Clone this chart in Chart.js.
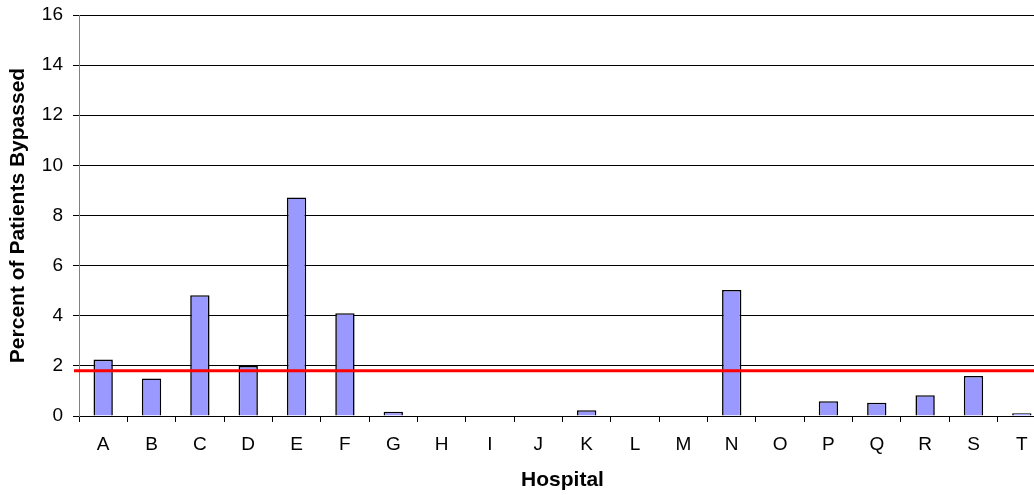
<!DOCTYPE html>
<html>
<head>
<meta charset="utf-8">
<script src="https://cdn.jsdelivr.net/npm/chart.js@4.4.0/dist/chart.umd.min.js"></script>
<style>
  html, body { margin: 0; padding: 0; background: #fff; overflow: hidden; }
  #wrap { width: 1046px; height: 495px; position: relative; }
</style>
</head>
<body>
<div id="wrap"><canvas id="bypassChart"></canvas></div>
<script>
// Data
const hospitals = ['A','B','C','D','E','F','G','H','I','J','K','L','M','N','O','P','Q','R','S','T'];
const percentBypassed = [2.25, 1.5, 4.82, 2.0, 8.72, 4.1, 0.17, 0, 0, 0, 0.23, 0, 0, 5.03, 0, 0.59, 0.53, 0.83, 1.6, 0.11];
const benchmark = 1.81;
const yTicks = [0, 2, 4, 6, 8, 10, 12, 14, 16];

const fontFamily = '"Liberation Sans", Arial, sans-serif';

// red reference line across the whole plot, placed with the y scale
const benchmarkLine = {
  id: 'benchmarkLine',
  afterDatasetsDraw(chart) {
    const ctx = chart.ctx;
    const y = chart.scales.y.getPixelForValue(benchmark);
    const area = chart.chartArea;
    ctx.save();
    ctx.strokeStyle = '#FF0000';
    ctx.lineWidth = 3;
    ctx.beginPath();
    ctx.moveTo(area.left - 5, y);
    ctx.lineTo(area.right, y);
    ctx.stroke();
    ctx.restore();
  }
};

const ctx = document.getElementById('bypassChart').getContext('2d');
new Chart(ctx, {
  type: 'bar',
  data: {
    labels: hospitals,
    datasets: [{
      label: 'Percent of Patients Bypassed',
      data: percentBypassed,
      backgroundColor: '#9999FF',
      borderColor: '#000000',
      borderWidth: 1.6,
      barPercentage: 0.4,
      categoryPercentage: 1.0
    }]
  },
  options: {
    responsive: true,
    maintainAspectRatio: false,
    animation: false,
    devicePixelRatio: 1,
    layout: { padding: { top: 15, right: 0, left: 0, bottom: 0 } },
    plugins: {
      legend: { display: false },
      tooltip: { enabled: false }
    },
    scales: {
      x: {
        afterFit(scale) { scale.height = 79; },
        grid: {
          offset: true,
          drawOnChartArea: false,
          drawTicks: true,
          tickLength: 6,
          color: '#000000'
        },
        border: { color: '#000000', width: 1 },
        ticks: {
          color: '#000000',
          padding: 11,
          font: { family: fontFamily, size: 19 }
        },
        title: {
          display: true,
          text: 'Hospital',
          color: '#000000',
          padding: { top: 0, bottom: 2 },
          font: { family: fontFamily, size: 21, weight: 'bold' }
        }
      },
      y: {
        min: 0,
        max: 16,
        afterFit(scale) {
          scale.width = 79;
          scale.paddingTop = 0;
          scale.paddingBottom = 0;
        },
        afterBuildTicks(axis) {
          axis.ticks = yTicks.map(v => ({ value: v }));
        },
        grid: {
          color: '#000000',
          lineWidth: 1,
          drawTicks: true,
          tickLength: 6
        },
        border: { color: '#808080', width: 1 },
        ticks: {
          color: '#000000',
          padding: 10,
          font: { family: fontFamily, size: 19 }
        },
        title: {
          display: true,
          text: 'Percent of Patients Bypassed',
          color: '#000000',
          padding: { top: 6, bottom: 0 },
          font: { family: fontFamily, size: 21, weight: 'bold' }
        }
      }
    }
  },
  plugins: [benchmarkLine]
});
</script>
</body>
</html>
